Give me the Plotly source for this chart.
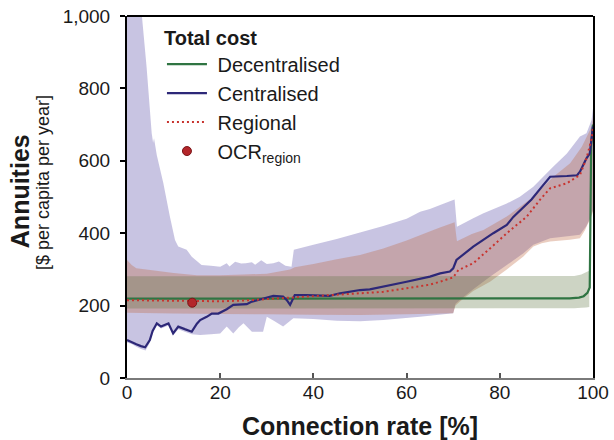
import plotly.graph_objects as go

# ---------------- data ----------------
# Centralised median line
cen_x = [0, 1, 2, 3, 3.9, 4.9, 5.5, 6.4, 7.3, 8.2, 8.9, 9.9, 11, 12.4, 13.9, 15, 15.7, 17.1, 18.2, 19.6,
         21.4, 22.8, 24, 25.7, 26.8, 28.5, 30, 31.4, 33.5, 34.3, 35, 36, 38.5, 41, 43.5, 45.7, 47.8, 50,
         52.1, 55, 60, 65, 67.2, 69.3, 70, 70.7, 74.3, 78.6, 81.5, 82.9, 86.8, 89, 90.8, 94.4, 96.6,
         97.2, 98.6, 99.3, 99.9, 100]
cen_y = [105, 98, 93, 88, 85, 105, 130, 151, 142, 147, 151, 123, 142, 135, 128, 150, 160, 169, 178, 178,
         190, 202, 203, 204, 211, 217, 222, 227, 225, 215, 202, 229, 229, 228, 227, 234, 239, 243,
         245, 252, 266, 280, 289, 294, 303, 326, 363, 400, 423, 445, 493, 528, 556, 558, 560,
         570, 607, 620, 676, 695]

# Centralised band
cen_up_x = [0, 3.2, 4.2, 5.3, 5.6, 5.8, 6.4, 7.8, 9.2, 10.3, 11, 12.8, 13.9, 16, 18, 20, 21.4, 22, 23.2,
            24.5, 25.5, 26.8, 27.5, 28.8, 30, 31.4, 32.6, 34, 35.3, 35.8, 40, 45, 50, 55, 60, 62.9, 65,
            67.2, 70, 70.3, 70.8, 74.3, 76.5, 81.5, 84.3, 87.2, 90.8, 91.5, 94.4, 97.2, 98.6, 99.7, 100]
cen_up_y = [1100, 1000, 860, 676, 650, 662, 615, 538, 446, 381, 363, 354, 335, 312, 310, 307, 317, 308, 321,
            316, 317, 320, 313, 325, 315, 317, 322, 310, 307, 354, 368, 384, 402, 420, 440, 459, 467,
            478, 492, 493, 418, 441, 455, 482, 501, 528, 575, 584, 620, 667, 676, 713, 745]
cen_lo_x = [0, 1, 2, 3, 4, 4.8, 5.5, 6.4, 7.3, 8.9, 9.9, 11, 12.4, 13.9, 15.7, 18, 20, 21.4, 22.8, 24, 25,
            26.8, 29.2, 30, 31.5, 33.5, 35.7, 40, 45, 50, 55, 62.9, 70, 70.5, 71.5, 74.3, 77.9, 81.5, 85,
            87.2, 90.8, 95, 97.2, 98.6, 99.5, 100]
cen_lo_y = [98, 94, 86, 80, 76, 95, 125, 146, 137, 145, 118, 135, 128, 121, 119, 121, 123, 142, 123, 140, 151,
            128, 128, 169, 158, 142, 165, 163, 158, 157, 160, 169, 179, 205, 216, 245, 280, 312, 344,
            368, 386, 392, 396, 420, 445, 465]

# Regional median line
reg_x = [0, 5, 10, 14, 20, 25, 30, 35, 40, 45, 50, 55, 60, 65, 67.2, 70, 71.1, 74.3, 78.6, 81.5, 85.8,
         88.6, 90.8, 94.4, 97.2, 98.6, 99.7, 100]
reg_y = [215, 214, 213, 212, 212, 214, 218, 222, 225, 228, 232, 238, 248, 258, 266, 278, 298, 317, 366,
         400, 446, 492, 524, 538, 561, 607, 660, 690]

# Regional band
reg_up_x = [0, 1, 2, 5, 10, 15, 20, 25, 30, 35, 36, 40, 45, 50, 55, 60, 63, 67, 70.3, 70.8, 74, 76.5,
            81.5, 87.2, 91.5, 95.1, 97.6, 99.7, 100]
reg_up_y = [326, 312, 303, 298, 290, 284, 284, 286, 288, 300, 306, 315, 328, 340, 358, 380, 395, 415, 430,
            378, 398, 409, 446, 501, 556, 593, 639, 694, 720]
reg_lo_x = [0, 10, 20, 30, 40, 50, 60, 70, 70.5, 71.5, 74.3, 77.9, 81.5, 85, 87.2, 89, 90.8, 95, 97.2,
            98.3, 98.8, 99.5, 100]
reg_lo_y = [180, 178, 177, 176, 175, 174, 176, 179, 200, 212, 240, 266, 300, 335, 363, 372, 377, 382, 386,
            409, 423, 440, 460]

# Decentralised median line
dec_x = [0, 50, 95, 97, 98, 98.8, 99.3, 99.6, 100]
dec_y = [219, 219, 220, 222, 226, 235, 250, 640, 700]

# Decentralised band
dec_band_x = [0, 96, 97.5, 98.5, 99.2]
dec_up_y = [281, 282, 286, 292, 296]
dec_lo_y = [192, 193, 194, 195, 196]

# Optimal connection rate (region)
ocr_x = [14]
ocr_y = [208]

x_ticks = [0, 20, 40, 60, 80, 100]
y_ticks = [0, 200, 400, 600, 800, 1000]

FONT = "Liberation Sans, Arial, sans-serif"

C_CEN = "#2d2878"
C_REG = "#c8332e"
C_DEC = "#2f7442"


def band(xu, yu, xl, yl, color):
    return go.Scatter(x=list(xu) + list(xl)[::-1], y=list(yu) + list(yl)[::-1],
                      fill="toself", fillcolor=color, mode="none",
                      line=dict(width=0), showlegend=False, hoverinfo="skip")


fig = go.Figure()
fig.add_trace(band(cen_up_x, cen_up_y, cen_lo_x, cen_lo_y, "rgba(110,100,180,0.38)"))
fig.add_trace(band(reg_up_x, reg_up_y, reg_lo_x, reg_lo_y, "rgba(190,100,60,0.32)"))
fig.add_trace(band(dec_band_x, dec_up_y, dec_band_x, dec_lo_y, "rgba(88,112,58,0.30)"))

fig.add_trace(go.Scatter(x=dec_x, y=dec_y, mode="lines", name="&nbsp;Decentralised",
                         line=dict(color=C_DEC, width=2.2)))
fig.add_trace(go.Scatter(x=cen_x, y=cen_y, mode="lines", name="&nbsp;Centralised",
                         line=dict(color=C_CEN, width=2.2)))
fig.add_trace(go.Scatter(x=reg_x, y=reg_y, mode="lines", name="&nbsp;Regional",
                         line=dict(color=C_REG, width=2, dash="2px,3px")))
fig.add_trace(go.Scatter(x=ocr_x, y=ocr_y, mode="markers", name="&nbsp;OCR<sub>region</sub>",
                         marker=dict(color="#b3262a", size=9, line=dict(color="#7a1518", width=1))))

fig.update_layout(
    width=614, height=440,
    margin=dict(l=127, r=21, t=16, b=62),
    paper_bgcolor="white", plot_bgcolor="white",
    font=dict(family=FONT, color="#1a1a1a"),
    showlegend=True,
    legend=dict(
        x=0.075, y=0.993, xanchor="left", yanchor="top",
        bgcolor="rgba(0,0,0,0)",
        font=dict(size=20, family=FONT, color="#1a1a1a"),
        title=dict(text="<b>Total cost</b>", font=dict(size=20, family=FONT, color="#1a1a1a")),
        itemwidth=40, tracegroupgap=0,
    ),
    xaxis=dict(
        range=[0, 100], tickvals=x_ticks, ticks="inside", ticklen=5, tickwidth=1.5,
        tickcolor="#555555", showline=True, linecolor="#7a7a7a", linewidth=2,
        showgrid=False, zeroline=False, tickfont=dict(size=19, family=FONT, color="#1a1a1a"),
        ticklabelstandoff=-4, automargin=False,
        title=dict(text="<b>Connection rate [%]</b>", font=dict(size=25, family=FONT, color="#1a1a1a"),
                   standoff=20),
    ),
    yaxis=dict(
        range=[0, 1000], tickvals=y_ticks, tickformat=",d", ticks="outside", ticklen=5,
        tickwidth=1.5, tickcolor="black", showline=True, linecolor="black", linewidth=2,
        mirror=True, showgrid=False, zeroline=False, automargin=False,
        tickfont=dict(size=19, family=FONT, color="#1a1a1a"), ticklabelstandoff=6,
    ),
    shapes=[dict(type="line", xref="paper", yref="paper", x0=0, x1=1, y0=1, y1=1,
                 line=dict(color="black", width=2))],
    annotations=[
        dict(text="<b>Annuities</b>", xref="paper", yref="paper", x=-0.231, y=0.517,
             xanchor="center", yanchor="middle", textangle=-90, showarrow=False,
             font=dict(size=25, family=FONT, color="#1a1a1a")),
        dict(text="[$ per capita per year]", xref="paper", yref="paper", x=-0.180, y=0.539,
             xanchor="center", yanchor="middle", textangle=-90, showarrow=False,
             font=dict(size=18, family=FONT, color="#1a1a1a")),
    ],
)

fig.write_html("out.html")
